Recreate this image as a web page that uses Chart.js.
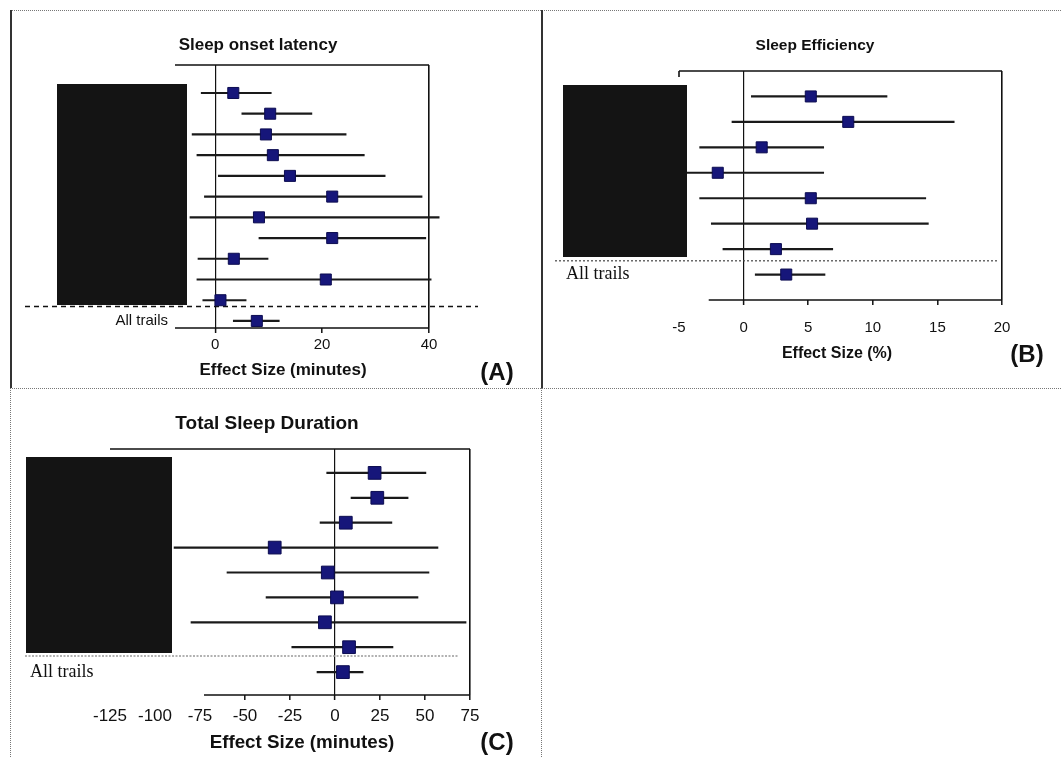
<!DOCTYPE html>
<html>
<head>
<meta charset="utf-8">
<script src="https://cdn.jsdelivr.net/npm/chart.js@4.4.1/dist/chart.umd.min.js"></script>
<style>
  body { margin: 0; background: #fff; font-family: 'Liberation Sans', Arial, sans-serif; }
  #page { position: relative; width: 1061px; height: 757px; overflow: hidden; }
  .cell { position: absolute; }
  .txt { position: absolute; transform: translate(-50%, -50%); white-space: nowrap; font-weight: bold; color: #111; }
  .mask { position: absolute; background: #141414; }
  .rule { position: absolute; }
</style>
</head>
<body>
<div id="page">
  <!-- khung chia ô -->
  <div class="rule" style="left:10px;top:10px;width:1051px;border-top:1px dotted #777"></div>
  <div class="rule" style="left:10px;top:388px;width:1051px;border-top:1px dotted #777"></div>
  <div class="rule" style="left:10px;top:10px;height:378px;border-left:2px solid #333"></div>
  <div class="rule" style="left:10px;top:388px;height:369px;border-left:1px dotted #777"></div>
  <div class="rule" style="left:541px;top:10px;height:378px;border-left:2px solid #333"></div>
  <div class="rule" style="left:541px;top:388px;height:369px;border-left:1px dotted #777"></div>

  <div class="cell" style="left:10px;top:10px;width:531px;height:378px"><canvas id="chartA"></canvas></div>
  <div class="cell" style="left:541px;top:10px;width:520px;height:378px"><canvas id="chartB"></canvas></div>
  <div class="cell" style="left:10px;top:388px;width:531px;height:369px"><canvas id="chartC"></canvas></div>

  <!-- ô đen che tên nghiên cứu -->
  <div class="mask" style="left:57px;top:84px;width:130px;height:221px"></div>
  <div class="mask" style="left:563px;top:85px;width:124px;height:172px"></div>
  <div class="mask" style="left:26px;top:457px;width:146px;height:196px"></div>

  <div class="txt" style="left:258px;top:45px;font-size:17px">Sleep onset latency</div>
  <div class="txt" style="left:283px;top:370px;font-size:17px">Effect Size (minutes)</div>
  <div class="txt" style="left:497px;top:372px;font-size:24px">(A)</div>

  <div class="txt" style="left:815px;top:45px;font-size:15.5px">Sleep Efficiency</div>
  <div class="txt" style="left:837px;top:353px;font-size:16px">Effect Size (%)</div>
  <div class="txt" style="left:1027px;top:354px;font-size:24px">(B)</div>

  <div class="txt" style="left:267px;top:423px;font-size:19px">Total Sleep Duration</div>
  <div class="txt" style="left:302px;top:742px;font-size:18.8px">Effect Size (minutes)</div>
  <div class="txt" style="left:497px;top:742px;font-size:24px">(C)</div>
</div>

<script>
// (A) Sleep onset latency - effect size (minutes)
const labelsA = ['', '', '', '', '', '', '', '', '', '', '', 'All trails'];
const estA = [3.4, 10.3, 9.5, 10.8, 14.0, 21.9, 8.2, 21.9, 3.5, 20.7, 1.0, 7.8];
const loA = [-2.6, 5.0, -4.3, -3.4, 0.6, -2.0, -4.7, 8.2, -3.2, -3.4, -2.3, 3.4];
const hiA = [10.5, 18.1, 24.5, 27.9, 31.8, 38.7, 41.9, 39.4, 9.9, 40.4, 5.8, 12.0];
const ticksA = [0, 20, 40];

// (B) Sleep efficiency - effect size (%)
const labelsB = ['', '', '', '', '', '', '', 'All trails'];
const estB = [5.2, 8.1, 1.4, -2.0, 5.2, 5.3, 2.5, 3.3];
const loB = [0.6, -0.9, -3.4, -4.6, -3.4, -2.5, -1.6, 0.9];
const hiB = [11.1, 16.3, 6.2, 6.2, 14.1, 14.3, 6.9, 6.3];
const ticksB = [-5, 0, 5, 10, 15, 20];

// (C) Total sleep duration - effect size (minutes)
const labelsC = ['', '', '', '', '', '', '', '', 'All trails'];
const estC = [22.0, 23.5, 6.0, -33.5, -4.0, 1.1, -5.6, 7.8, 4.4];
const loC = [-4.6, 8.9, -8.3, -89.4, -60.0, -38.3, -80.0, -24.0, -10.0];
const hiC = [50.5, 40.6, 31.6, 57.2, 52.2, 46.1, 72.8, 32.2, 15.6];
const ticksC = [-125, -100, -75, -50, -25, 0, 25, 50, 75];

// Vẽ một biểu đồ forest plot
function forest(id, d) {
  const rows = d.labels.map((_, i) => i + 1);

  // khung trên / dưới và đường phân cách "All trails"
  const frame = {
    id: 'frame',
    beforeDatasetsDraw(chart) {
      const { ctx, chartArea: a, scales: { x, y } } = chart;
      ctx.save();
      ctx.strokeStyle = '#111';
      ctx.lineWidth = 1.6;
      ctx.beginPath();
      ctx.moveTo(a.left, a.top);
      ctx.lineTo(a.right, a.top);
      ctx.moveTo(x.getPixelForValue(d.bottomFrom), a.bottom);
      ctx.lineTo(a.right, a.bottom);
      if (d.leftTick) {
        ctx.moveTo(a.left, a.top);
        ctx.lineTo(a.left, a.top + 6);
      }
      ctx.stroke();

      const s = d.sep;
      const yy = y.getPixelForValue(s.row);
      ctx.strokeStyle = s.color;
      ctx.lineWidth = s.width;
      ctx.setLineDash(s.dash);
      ctx.beginPath();
      ctx.moveTo(s.x0, yy);
      ctx.lineTo(s.x1, yy);
      ctx.stroke();
      ctx.restore();
    },
  };

  return new Chart(document.getElementById(id), {
    type: 'scatter',
    data: {
      datasets: [
        {
          type: 'bar',
          indexAxis: 'y',
          data: rows.map((r, i) => ({ y: r, x: [d.lo[i], d.hi[i]] })),
          backgroundColor: '#1a1a1a',
          barThickness: 1.5,
          clip: false,
          order: 1,
        },
        {
          type: 'scatter',
          data: rows.map((r, i) => ({ x: d.est[i], y: r })),
          pointStyle: 'rect',
          pointRadius: d.radius,
          backgroundColor: '#16167a',
          borderColor: '#0c0c50',
          borderWidth: 1,
          clip: false,
          order: 0,
        },
      ],
    },
    options: {
      responsive: true,
      maintainAspectRatio: false,
      animation: false,
      events: [],
      layout: { padding: d.padding },
      plugins: { legend: { display: false }, tooltip: { enabled: false } },
      scales: {
        x: {
          type: 'linear',
          min: d.xMin,
          max: d.xMax,
          afterBuildTicks: (s) => { s.ticks = d.ticks.map((v) => ({ value: v })); },
          afterFit: (s) => { s.height = d.xHeight; },
          border: { display: false },
          grid: {
            drawTicks: true,
            tickLength: 5,
            color: (c) => (c.tick && (c.tick.value === 0 || c.tick.value === d.xMax)) ? '#111' : 'rgba(0,0,0,0)',
            lineWidth: (c) => (c.tick && c.tick.value === 0) ? 1.2 : 1.6,
            tickColor: (c) => (c.tick && c.tick.value >= d.bottomFrom) ? '#111' : 'rgba(0,0,0,0)',
            tickWidth: 1.5,
          },
          ticks: {
            autoSkip: false,
            maxRotation: 0,
            padding: d.tickPad,
            color: '#111',
            font: { family: "'Liberation Sans', Arial, sans-serif", size: d.tickSize },
          },
        },
        y: {
          type: 'linear',
          min: d.yMin,
          max: d.yMax,
          reverse: true,
          offset: false,
          afterBuildTicks: (s) => { s.ticks = rows.map((v) => ({ value: v })); },
          afterFit: (s) => { s.width = d.yWidth; },
          border: { display: false },
          grid: { display: false, drawTicks: false, offset: false },
          ticks: {
            autoSkip: false,
            crossAlign: d.align,
            padding: d.labelPad,
            color: '#111',
            font: d.labelFont,
            callback: (v) => d.labels[v - 1] || '',
          },
        },
      },
    },
    plugins: [frame],
  });
}

document.addEventListener('DOMContentLoaded', function () {
  forest('chartA', {
    labels: labelsA, est: estA, lo: loA, hi: hiA, ticks: ticksA,
    xMin: -7.5, xMax: 40, yMin: -0.35, yMax: 12.34,
    padding: { top: 55, right: 112, bottom: 0, left: 0 },
    yWidth: 165, xHeight: 60, tickSize: 15, tickPad: 3,
    align: 'near', labelPad: 7,
    labelFont: { family: "'Liberation Sans', Arial, sans-serif", size: 15 },
    bottomFrom: -7.5, leftTick: false, radius: 7.8,
    sep: { row: 11.3, x0: 15, x1: 468, color: '#111', dash: [5, 4], width: 1.5 },
  });

  forest('chartB', {
    labels: labelsB, est: estB, lo: loB, hi: hiB, ticks: ticksB,
    xMin: -5, xMax: 20, yMin: 0, yMax: 9,
    padding: { top: 61, right: 59, bottom: 0, left: 25 },
    yWidth: 113, xHeight: 88, tickSize: 15, tickPad: 14,
    align: 'far', labelPad: 0,
    labelFont: { family: "'Liberation Serif', 'Times New Roman', serif", size: 18 },
    bottomFrom: -2.7, leftTick: true, radius: 7.8,
    sep: { row: 7.46, x0: 14, x1: 456, color: '#444', dash: [2, 2], width: 1.2 },
  });

  forest('chartC', {
    labels: labelsC, est: estC, lo: loC, hi: hiC, ticks: ticksC,
    xMin: -125, xMax: 75, yMin: 0.04, yMax: 9.92,
    padding: { top: 61, right: 71, bottom: 0, left: 20 },
    yWidth: 80, xHeight: 62, tickSize: 17, tickPad: 6,
    align: 'far', labelPad: 0,
    labelFont: { family: "'Liberation Serif', 'Times New Roman', serif", size: 18 },
    bottomFrom: -72.8, leftTick: false, radius: 9,
    sep: { row: 8.35, x0: 15, x1: 448, color: '#999', dash: [2, 1.5], width: 1.5 },
  });
});
</script>
</body>
</html>
